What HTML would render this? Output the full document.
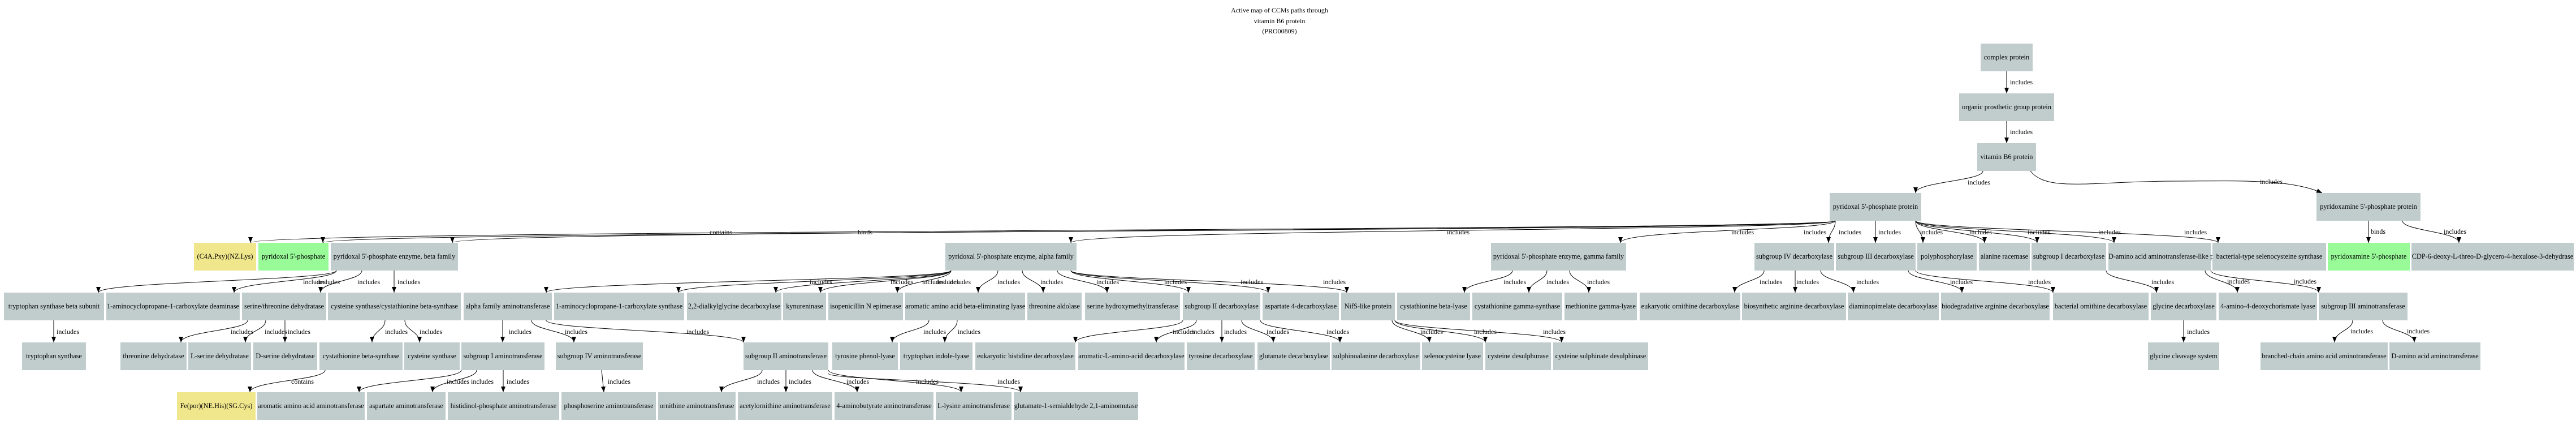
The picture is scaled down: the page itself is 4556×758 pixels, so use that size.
<!DOCTYPE html>
<html><head><meta charset="utf-8"><style>
body{margin:0;background:#fff;width:4556px;height:758px;overflow:hidden;position:relative;font-family:"Liberation Serif",serif}
.n{position:absolute;height:49px;line-height:49px;text-align:center;white-space:nowrap;font-size:12.3px;background:#c1cdcd;color:#000;overflow:visible}
.g{background:#98fb98}.y{background:#f0e68c}
.r0{top:77px}.r1{top:165px}.r2{top:253px}.r3{top:341px}.r4{top:429px}.r5{top:517px}.r6{top:605px}.r7{top:693px}
svg{position:absolute;left:0;top:0}
svg text{font-family:"Liberation Serif",serif;font-size:12px}
</style></head><body>
<svg width="4556" height="758">
<defs><marker id="a" markerWidth="10" markerHeight="8" refX="10" refY="4" orient="auto" markerUnits="userSpaceOnUse"><path d="M0,0L10,4L0,8z" fill="#000"/></marker></defs>
<g fill="none" stroke="#000" stroke-width="1" marker-end="url(#a)">
<path d="M3549 126L3549 165"/>
<path d="M3549 214L3549 253"/>
<path d="M3507 302C3507 320 3388 321 3388 341"/>
<path d="M3591 302C3620 340 3700 320 3850 320C3950 320 4050 315 4107 341"/>
<path d="M3246 390C3246 408 443 405 443 429"/>
<path d="M3246 390C3246 410 571 407 571 429"/>
<path d="M3246 390C3246 409 800 405 800 429"/>
<path d="M3246 390C3246 408 1894 405 1894 429"/>
<path d="M3246 390C3246 408 2866 405 2866 429"/>
<path d="M3246 390C3246 408 3234 409 3234 429"/>
<path d="M3317 390L3317 429"/>
<path d="M3388 390C3388 408 3401 409 3401 429"/>
<path d="M3388 390C3388 408 3510 409 3510 429"/>
<path d="M3388 390C3388 408 3603 409 3603 429"/>
<path d="M3388 390C3388 408 3739 409 3739 429"/>
<path d="M3388 390C3388 408 3923 409 3923 429"/>
<path d="M4189 390L4189 429"/>
<path d="M4249 390C4249 408 4349 409 4349 429"/>
<path d="M595 478C595 496 174 497 174 517"/>
<path d="M595 478C595 496 414 497 414 517"/>
<path d="M640 478C640 496 567 497 567 517"/>
<path d="M697 478L697 517"/>
<path d="M95 566L95 605"/>
<path d="M438 566C438 584 320 585 320 605"/>
<path d="M470 566C470 584 434 585 434 605"/>
<path d="M504 566L504 605"/>
<path d="M681 566C681 584 658 585 658 605"/>
<path d="M716 566C716 584 742 585 742 605"/>
<path d="M575 654C575 672 442 673 442 693"/>
<path d="M1682 478C1682 496 966 497 966 517"/>
<path d="M1682 478C1682 496 1200 497 1200 517"/>
<path d="M1682 478C1682 496 1372 497 1372 517"/>
<path d="M1682 478C1682 496 1451 497 1451 517"/>
<path d="M1682 478C1682 496 1587 497 1587 517"/>
<path d="M1765 478C1765 496 1730 497 1730 517"/>
<path d="M1808 478C1808 496 1845 497 1845 517"/>
<path d="M1870 478C1870 496 1958 497 1958 517"/>
<path d="M1894 478C1894 496 2102 497 2102 517"/>
<path d="M1894 478C1894 496 2243 497 2243 517"/>
<path d="M1894 478C1894 496 2382 497 2382 517"/>
<path d="M889 566L889 605"/>
<path d="M940 566C940 584 1015 585 1015 605"/>
<path d="M966 566C966 584 1315 585 1315 605"/>
<path d="M1643 566C1643 584 1578 585 1578 605"/>
<path d="M1693 566C1693 584 1671 585 1671 605"/>
<path d="M2092 566C2092 584 1902 585 1902 605"/>
<path d="M2116 566C2116 584 2045 585 2045 605"/>
<path d="M2161 566L2161 605"/>
<path d="M2196 566C2196 584 2252 585 2252 605"/>
<path d="M2229 566C2229 584 2370 585 2370 605"/>
<path d="M2462 566C2462 584 2528 585 2528 605"/>
<path d="M2467 566C2467 584 2627 585 2627 605"/>
<path d="M2467 566C2467 584 2762 585 2762 605"/>
<path d="M2675 478C2675 496 2590 497 2590 517"/>
<path d="M2736 478C2736 496 2704 497 2704 517"/>
<path d="M2776 478C2776 496 2810 497 2810 517"/>
<path d="M3120 478C3120 496 3068 497 3068 517"/>
<path d="M3175 478L3175 517"/>
<path d="M3220 478C3220 496 3278 497 3278 517"/>
<path d="M3375 478C3375 496 3470 497 3470 517"/>
<path d="M3388 478C3388 496 3631 497 3631 517"/>
<path d="M3725 478C3725 496 3814 497 3814 517"/>
<path d="M3900 478C3900 496 3957 497 3957 517"/>
<path d="M3910 478C3910 496 4101 497 4101 517"/>
<path d="M3862 566L3862 605"/>
<path d="M4161 566C4161 584 4129 585 4129 605"/>
<path d="M4214 566C4214 584 4270 585 4270 605"/>
<path d="M816 654C816 672 635 673 635 693"/>
<path d="M843 654C843 672 765 673 765 693"/>
<path d="M890 654L890 693"/>
<path d="M1064 654L1068 693"/>
<path d="M1348 654C1348 672 1276 673 1276 693"/>
<path d="M1390 654L1390 693"/>
<path d="M1437 654C1437 672 1516 673 1516 693"/>
<path d="M1465 654C1465 672 1700 673 1700 693"/>
<path d="M1465 660C1465 672 1805 673 1805 693"/>
</g>
<g fill="#000">
<text x="2263" y="22" text-anchor="middle">Active map of CCMs paths through</text>
<text x="2263" y="41" text-anchor="middle">vitamin B6 protein</text>
<text x="2263" y="59" text-anchor="middle">(PRO00809)</text>
<text x="3555" y="149">includes</text><text x="3555" y="237">includes</text>
<text x="3480" y="326">includes</text><text x="3997" y="325">includes</text>
<text x="1255" y="414">contains</text><text x="1517" y="414">binds</text>
<text x="2559" y="414">includes</text><text x="3062" y="414">includes</text>
<text x="3190" y="414">includes</text><text x="3252" y="414">includes</text><text x="3322" y="414">includes</text><text x="3396" y="414">includes</text><text x="3483" y="414">includes</text><text x="3586" y="414">includes</text><text x="3711" y="414">includes</text><text x="3863" y="414">includes</text>
<text x="4193" y="413">binds</text><text x="4322" y="413">includes</text>
<text x="536" y="502">includes</text><text x="561" y="502">includes</text><text x="632" y="502">includes</text><text x="703" y="502">includes</text>
<text x="1432" y="502">includes</text><text x="1575" y="502">includes</text><text x="1631" y="502">includes</text><text x="1656" y="502">includes</text><text x="1677" y="502">includes</text><text x="1764" y="502">includes</text><text x="1840" y="502">includes</text><text x="1939" y="502">includes</text><text x="2059" y="502">includes</text><text x="2194" y="502">includes</text><text x="2340" y="502">includes</text>
<text x="2659" y="502">includes</text><text x="2735" y="502">includes</text><text x="2807" y="502">includes</text>
<text x="3112" y="502">includes</text><text x="3177" y="502">includes</text><text x="3283" y="502">includes</text><text x="3449" y="502">includes</text><text x="3587" y="502">includes</text><text x="3805" y="502">includes</text>
<text x="3939" y="501">includes</text><text x="4057" y="501">includes</text>
<text x="100" y="590">includes</text><text x="408" y="590">includes</text><text x="468" y="590">includes</text><text x="509" y="590">includes</text><text x="681" y="590">includes</text><text x="742" y="590">includes</text>
<text x="900" y="590">includes</text><text x="999" y="590">includes</text><text x="1214" y="590">includes</text><text x="1633" y="590">includes</text><text x="1694" y="590">includes</text>
<text x="2074" y="590">includes</text><text x="2108" y="590">includes</text><text x="2165" y="590">includes</text><text x="2240" y="590">includes</text><text x="2346" y="590">includes</text>
<text x="2512" y="590">includes</text><text x="2607" y="590">includes</text><text x="2729" y="590">includes</text>
<text x="3868" y="590">includes</text><text x="4157" y="589">includes</text><text x="4257" y="589">includes</text>
<text x="515" y="678">contains</text><text x="790" y="678">includes</text><text x="833" y="678">includes</text><text x="896" y="678">includes</text><text x="1075" y="678">includes</text>
<text x="1339" y="678">includes</text><text x="1395" y="678">includes</text><text x="1497" y="678">includes</text><text x="1620" y="678">includes</text><text x="1764" y="678">includes</text>
</g>
</svg>
<div class="n r0" style="left:3503px;width:92px">complex protein</div>
<div class="n r1" style="left:3465px;width:168px">organic prosthetic group protein</div>
<div class="n r2" style="left:3497px;width:104px">vitamin B6 protein</div>
<div class="n r3" style="left:3236px;width:162px">pyridoxal 5'-phosphate protein</div>
<div class="n r3" style="left:4097px;width:184px">pyridoxamine 5'-phosphate protein</div>

<div class="n r4 y" style="left:343px;width:110px">(C4A.Pxy)(NZ.Lys)</div>
<div class="n r4 g" style="left:457px;width:124px">pyridoxal 5'-phosphate</div>
<div class="n r4" style="left:585px;width:225px">pyridoxal 5'-phosphate enzyme, beta family</div>
<div class="n r4" style="left:1672px;width:232px">pyridoxal 5'-phosphate enzyme, alpha family</div>
<div class="n r4" style="left:2637px;width:239px">pyridoxal 5'-phosphate enzyme, gamma family</div>
<div class="n r4" style="left:3103px;width:141px">subgroup IV decarboxylase</div>
<div class="n r4" style="left:3247px;width:141px">subgroup III decarboxylase</div>
<div class="n r4" style="left:3391px;width:105px">polyphosphorylase</div>
<div class="n r4" style="left:3500px;width:90px">alanine racemase</div>
<div class="n r4" style="left:3593px;width:132px">subgroup I decarboxylase</div>
<div class="n r4" style="left:3729px;width:181px">D-amino acid aminotransferase-like protein</div>
<div class="n r4" style="left:3913px;width:201px">bacterial-type selenocysteine synthase</div>
<div class="n r4 g" style="left:4117px;width:145px">pyridoxamine 5'-phosphate</div>
<div class="n r4" style="left:4265px;width:287px">CDP-6-deoxy-L-threo-D-glycero-4-hexulose-3-dehydrase</div>

<div class="n r5" style="left:7px;width:177px">tryptophan synthase beta subunit</div>
<div class="n r5" style="left:188px;width:236px">1-aminocyclopropane-1-carboxylate deaminase</div>
<div class="n r5" style="left:428px;width:149px">serine/threonine dehydratase</div>
<div class="n r5" style="left:580px;width:235px">cysteine synthase/cystathionine beta-synthase</div>
<div class="n r5" style="left:820px;width:156px">alpha family aminotransferase</div>
<div class="n r5" style="left:980px;width:230px">1-aminocyclopropane-1-carboxylate synthase</div>
<div class="n r5" style="left:1215px;width:167px">2,2-dialkylglycine decarboxylase</div>
<div class="n r5" style="left:1385px;width:76px">kynureninase</div>
<div class="n r5" style="left:1465px;width:132px">isopenicillin N epimerase</div>
<div class="n r5" style="left:1601px;width:212px">aromatic amino acid beta-eliminating lyase</div>
<div class="n r5" style="left:1817px;width:96px">threonine aldolase</div>
<div class="n r5" style="left:1919px;width:168px">serine hydroxymethyltransferase</div>
<div class="n r5" style="left:2092px;width:137px">subgroup II decarboxylase</div>
<div class="n r5" style="left:2233px;width:135px">aspartate 4-decarboxylase</div>
<div class="n r5" style="left:2372px;width:95px">NifS-like protein</div>
<div class="n r5" style="left:2471px;width:129px">cystathionine beta-lyase</div>
<div class="n r5" style="left:2604px;width:159px">cystathionine gamma-synthase</div>
<div class="n r5" style="left:2767px;width:128px">methionine gamma-lyase</div>
<div class="n r5" style="left:2900px;width:178px">eukaryotic ornithine decarboxylase</div>
<div class="n r5" style="left:3081px;width:184px">biosynthetic arginine decarboxylase</div>
<div class="n r5" style="left:3268px;width:161px">diaminopimelate decarboxylase</div>
<div class="n r5" style="left:3433px;width:192px">biodegradative arginine decarboxylase</div>
<div class="n r5" style="left:3631px;width:169px">bacterial ornithine decarboxylase</div>
<div class="n r5" style="left:3804px;width:116px">glycine decarboxylase</div>
<div class="n r5" style="left:3924px;width:174px">4-amino-4-deoxychorismate lyase</div>
<div class="n r5" style="left:4101px;width:157px">subgroup III aminotransferase</div>

<div class="n r6" style="left:39px;width:113px">tryptophan synthase</div>
<div class="n r6" style="left:213px;width:117px">threonine dehydratase</div>
<div class="n r6" style="left:333px;width:111px">L-serine dehydratase</div>
<div class="n r6" style="left:448px;width:113px">D-serine dehydratase</div>
<div class="n r6" style="left:565px;width:147px">cystathionine beta-synthase</div>
<div class="n r6" style="left:715px;width:98px">cysteine synthase</div>
<div class="n r6" style="left:816px;width:147px">subgroup I aminotransferase</div>
<div class="n r6" style="left:983px;width:154px">subgroup IV aminotransferase</div>
<div class="n r6" style="left:1315px;width:150px">subgroup II aminotransferase</div>
<div class="n r6" style="left:1472px;width:116px">tyrosine phenol-lyase</div>
<div class="n r6" style="left:1592px;width:128px">tryptophan indole-lyase</div>
<div class="n r6" style="left:1725px;width:177px">eukaryotic histidine decarboxylase</div>
<div class="n r6" style="left:1907px;width:188px">aromatic-L-amino-acid decarboxylase</div>
<div class="n r6" style="left:2099px;width:120px">tyrosine decarboxylase</div>
<div class="n r6" style="left:2224px;width:128px">glutamate decarboxylase</div>
<div class="n r6" style="left:2355px;width:157px">sulphinoalanine decarboxylase</div>
<div class="n r6" style="left:2515px;width:108px">selenocysteine lyase</div>
<div class="n r6" style="left:2627px;width:116px">cysteine desulphurase</div>
<div class="n r6" style="left:2747px;width:168px">cysteine sulphinate desulphinase</div>
<div class="n r6" style="left:3799px;width:126px">glycine cleavage system</div>
<div class="n r6" style="left:3998px;width:225px">branched-chain amino acid aminotransferase</div>
<div class="n r6" style="left:4226px;width:161px">D-amino acid aminotransferase</div>

<div class="n r7 y" style="left:313px;width:139px">Fe(por)(NE.His)(SG.Cys)</div>
<div class="n r7" style="left:455px;width:190px">aromatic amino acid aminotransferase</div>
<div class="n r7" style="left:649px;width:139px">aspartate aminotransferase</div>
<div class="n r7" style="left:792px;width:197px">histidinol-phosphate aminotransferase</div>
<div class="n r7" style="left:993px;width:167px">phosphoserine aminotransferase</div>
<div class="n r7" style="left:1164px;width:137px">ornithine aminotransferase</div>
<div class="n r7" style="left:1305px;width:167px">acetylornithine aminotransferase</div>
<div class="n r7" style="left:1476px;width:175px">4-aminobutyrate aminotransferase</div>
<div class="n r7" style="left:1655px;width:134px">L-lysine aminotransferase</div>
<div class="n r7" style="left:1793px;width:220px">glutamate-1-semialdehyde 2,1-aminomutase</div>
</body></html>
